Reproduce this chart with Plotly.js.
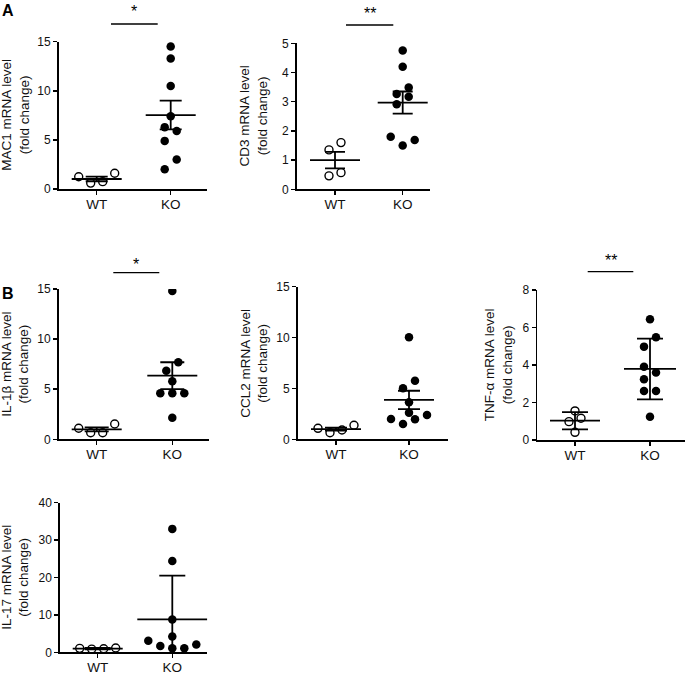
<!DOCTYPE html>
<html><head><meta charset="utf-8">
<script src="https://cdn.plot.ly/plotly-3.0.1.min.js"></script>
<style>html,body{margin:0;padding:0;background:#fff}#chart{width:685px;height:675px}</style>
</head><body><div id="chart"></div>
<script>
// ---------- data ----------
const groups = ['WT', 'KO'];
const panelTitles = ['MAC1 mRNA level', 'CD3 mRNA level', 'IL-1β mRNA level', 'CCL2 mRNA level', 'TNF-α mRNA level', 'IL-17 mRNA level'];
const subTitle = '(fold change)';
const yMax = [15, 5, 15, 15, 8, 40];
const yStep = [5, 1, 5, 5, 2, 10];

const mac1WT = [1.6, 1.25, 0.75, 0.6];
const mac1KO = [14.5, 13.3, 10.5, 7.4, 6.3, 5.9, 4.9, 3.0, 2.0];
const cd3WT = [1.6, 1.35, 0.57, 0.46];
const cd3KO = [4.75, 4.2, 3.49, 3.26, 3.17, 2.91, 1.80, 1.69, 1.50];
const il1bWT = [1.53, 1.1, 0.65, 0.65];
const il1bKO = [14.8, 7.7, 6.85, 5.8, 4.6, 4.6, 4.6, 2.15];
const ccl2WT = [1.38, 1.08, 0.91, 0.65];
const ccl2KO = [10.03, 5.76, 5.01, 3.64, 2.62, 2.39, 2.0, 1.97, 1.5];
const tnfWT = [1.55, 1.16, 0.98, 0.41];
const tnfKO = [6.44, 5.48, 4.98, 3.91, 3.6, 3.24, 2.61, 2.61, 1.24];
const il17WT = [1.15, 1.05, 0.95, 0.85];
const il17KO = [33, 24.4, 8.8, 4.2, 3.1, 2.1, 1.7, 1.07, 1.07];

// mean line and error bar (SEM / SD)
const meanWT = [1.02, 1.0, 1.0, 1.0, 1.03, 1.0];
const meanKO = [7.53, 2.97, 6.35, 3.87, 3.79, 8.82];
const errWT = [0.23, 0.28, 0.2, 0.15, 0.46, 0.2];
const errKO = [1.46, 0.38, 1.34, 0.9, 1.62, 11.7];

const significance = ['*', '**', '*', '', '**', ''];
const panelLetters = ['A', 'B'];

const wtSets = [mac1WT, cd3WT, il1bWT, ccl2WT, tnfWT, il17WT];
const koSets = [mac1KO, cd3KO, il1bKO, ccl2KO, tnfKO, il17KO];

// ---------- layout geometry (pixels) ----------
const W = 685, H = 675;
const geo = [
  {l: 58.7, r: 207.3, wt: 96.7, ko: 170.7, t: 41.7, b: 189, tx: 15.5},
  {l: 296.7, r: 430, wt: 335, ko: 402.7, t: 43.3, b: 189.3, tx: 253.3},
  {l: 58.7, r: 209.3, wt: 96.7, ko: 172.3, t: 289, b: 439.3, tx: 14.7},
  {l: 297.7, r: 448.3, wt: 336, ko: 409, t: 286.7, b: 439.3, tx: 253.7},
  {l: 537.3, r: 685, wt: 575, ko: 650, t: 290, b: 440, tx: 498.3},
  {l: 60, r: 207.3, wt: 97.7, ko: 172.3, t: 502.7, b: 652.3, tx: 15.3}
];
const sigLines = [
  {x0: 111, x1: 157.7, y: 24, sy: 11.5},
  {x0: 346, x1: 393.3, y: 25, sy: 13},
  {x0: 113.3, x1: 159.3, y: 272.7, sy: 264},
  null,
  {x0: 587.7, x1: 633.3, y: 271.7, sy: 260.5},
  null
];
const meanHalfPx = [[25, 25], [25, 25], [25, 25], [25, 25], [25, 26], [25, 35]];
const capPx = [11, 10, 12, 11, 13, 13];

const FONT = 'Liberation Sans, Arial, Helvetica, sans-serif';
const px2x = p => p / W;
const px2y = p => 1 - p / H;

// row-based dot-plot spread (GraphPad-like), computed in pixels
function swarm(vals, pxPerY, pxPerX) {
  const R = 10, step = 12, DIA = 8.5;
  const idx = vals.map((v, i) => i).sort((a, b) => vals[a] - vals[b]);
  const off = new Array(vals.length).fill(0);
  const placed = [];
  let i = 0;
  while (i < idx.length) {
    const y0 = vals[idx[i]] * pxPerY;
    const row = [idx[i]];
    let j = i + 1;
    while (j < idx.length && vals[idx[j]] * pxPerY - y0 < R) { row.push(idx[j]); j++; }
    const n = row.length;
    const slots = [];
    if (n % 2 === 1) { slots.push(0); for (let k = 1; slots.length < n; k++) { slots.push(k * step, -k * step); } }
    else { for (let k = 0; slots.length < n; k++) { slots.push(-(k + 0.5) * step, (k + 0.5) * step); } }
    let shift = 0;
    for (const sh of [0, 6, -6, 12, -12]) {
      const ok = row.every((pi, r) => placed.every(p => Math.hypot(p.x - (slots[r] + sh), p.y - vals[pi] * pxPerY) >= DIA));
      if (ok) { shift = sh; break; }
    }
    row.forEach((pi, r) => { off[pi] = slots[r] + shift; placed.push({x: off[pi], y: vals[pi] * pxPerY}); });
    i = j;
  }
  return off.map(o => o / pxPerX);
}

const traces = [];
const layout = {
  width: W, height: H, margin: {l: 0, r: 0, t: 0, b: 0},
  paper_bgcolor: '#fff', plot_bgcolor: 'rgba(0,0,0,0)',
  showlegend: false, font: {family: FONT, color: '#000'},
  annotations: [], shapes: []
};

geo.forEach((g, p) => {
  const n = p + 1;
  const xa = 'x' + (n === 1 ? '' : n), ya = 'y' + (n === 1 ? '' : n);
  const sp = g.ko - g.wt;
  const pxPerX = sp;
  const pxPerY = (g.b - g.t) / yMax[p];
  const xr = [(g.l - g.wt) / sp, 1 + (g.r - g.ko) / sp];

  layout['xaxis' + (n === 1 ? '' : n)] = {
    domain: [px2x(g.l), Math.min(1, px2x(g.r))], range: xr, anchor: ya,
    tickvals: [0, 1], ticktext: groups, showline: true, linecolor: '#000', linewidth: 1.7,
    ticks: 'outside', ticklen: 4, tickwidth: 1.5, tickcolor: '#000',
    showgrid: false, zeroline: false, fixedrange: true, ticklabelstandoff: -2,
    tickfont: {family: FONT, size: 13.5, color: '#111'}
  };
  layout['yaxis' + (n === 1 ? '' : n)] = {
    domain: [px2y(g.b), px2y(g.t)], range: [0, yMax[p]], anchor: xa,
    tick0: 0, dtick: yStep[p], showline: true, linecolor: '#000', linewidth: 1.7,
    ticks: 'outside', ticklen: 4, tickwidth: 1.5, tickcolor: '#000',
    showgrid: false, zeroline: false, fixedrange: true,
    tickfont: {family: FONT, size: 12, color: '#111'}
  };

  [wtSets[p], koSets[p]].forEach((vals, gi) => {
    const offs = swarm(vals, pxPerY, pxPerX);
    traces.push({
      type: 'scatter', mode: 'markers', xaxis: xa, yaxis: ya,
      x: vals.map((v, i) => gi + offs[i]), y: vals,
      marker: gi === 0
        ? {symbol: 'circle-open', size: 8, color: '#000', line: {width: 1.4, color: '#000'}}
        : {symbol: 'circle', size: 8.5, color: '#000', line: {width: 0}},
      hoverinfo: 'skip'
    });
    const m = gi === 0 ? meanWT[p] : meanKO[p];
    const e = gi === 0 ? errWT[p] : errKO[p];
    traces.push({
      type: 'scatter', mode: 'markers', xaxis: xa, yaxis: ya,
      x: [gi], y: [m], marker: {size: 2, opacity: 0},
      error_x: {type: 'constant', value: meanHalfPx[p][gi] / pxPerX, width: 0, thickness: 1.8, color: '#000'},
      error_y: {type: 'data', array: [e], symmetric: true, width: capPx[p], thickness: 1.8, color: '#000'},
      hoverinfo: 'skip'
    });
  });

  layout.annotations.push({
    xref: 'paper', yref: 'paper', x: px2x(g.tx), y: px2y((g.t + g.b) / 2),
    xanchor: 'center', yanchor: 'middle', textangle: -90, showarrow: false,
    text: panelTitles[p] + '<br>' + subTitle,
    font: {family: FONT, size: 13.5, color: '#111'}
  });

  const s = sigLines[p];
  if (s) {
    layout.shapes.push({type: 'line', xref: 'paper', yref: 'paper',
      x0: px2x(s.x0), x1: px2x(s.x1), y0: px2y(s.y), y1: px2y(s.y),
      line: {color: '#000', width: 1.3}});
    layout.annotations.push({xref: 'paper', yref: 'paper',
      x: px2x((s.x0 + s.x1) / 2), y: px2y(s.sy), xanchor: 'center', yanchor: 'middle',
      showarrow: false, text: significance[p], font: {family: FONT, size: 16, color: '#000'}});
  }
});

[[8, 10], [8, 293]].forEach((c, i) => {
  layout.annotations.push({xref: 'paper', yref: 'paper', x: px2x(c[0]), y: px2y(c[1]),
    xanchor: 'center', yanchor: 'middle', showarrow: false,
    text: '<b>' + panelLetters[i] + '</b>', font: {family: FONT, size: 16, color: '#000'}});
});

Plotly.newPlot('chart', traces, layout, {displayModeBar: false, staticPlot: true});
</script>
</body></html>
